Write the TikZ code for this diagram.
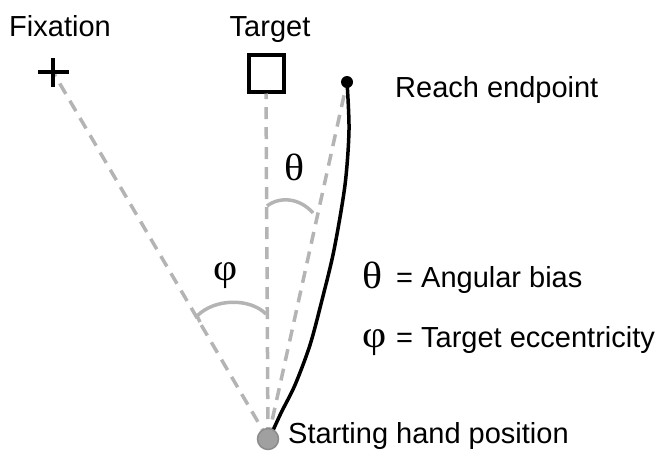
\documentclass[tikz,border=0pt]{standalone}
\usepackage{fontspec}
\setmainfont{Liberation Sans}
\newfontfamily\greekfont{Liberation Serif}
\usetikzlibrary{positioning}

\definecolor{guidegray}{RGB}{180,180,180}
\definecolor{handgray}{RGB}{160,160,160}

\tikzset{
  guide/.style={draw=guidegray, line width=3.5pt, dash pattern=on 12pt off 8pt},
  anglearc/.style={draw=guidegray, line width=3.5pt},
  reach/.style={draw=black, line width=3.5pt},
  handpos/.style={circle, fill=handgray, draw=gray!90, line width=1.5pt, minimum size=21pt, inner sep=0pt},
  targetbox/.style={rectangle, draw=black, line width=4pt, minimum width=35pt, minimum height=37pt, inner sep=0pt},
  enddot/.style={circle, fill=black, minimum size=12pt, inner sep=0pt},
  label/.style={inner sep=0pt, font=\fontsize{29}{34}\selectfont},
  greek/.style={inner sep=0pt, font=\greekfont\fontsize{38}{42}\selectfont, xscale=1.1}
}

\begin{document}
\begin{tikzpicture}[x=1pt, y=-1pt]
  \useasboundingbox (0,0) rectangle (659,456);

  % Points
  \coordinate (fix) at (53,72);
  \node[targetbox] (target) at (266,73) {};
  \node[enddot] (endpt) at (347,82) {};
  \coordinate (origin) at (268,439);

  % Guide lines
  \draw[guide] (origin) -- (fix);
  \draw[guide] (origin) -- (target.south);
  \draw[guide] (origin) -- (endpt);

  % Fixation cross
  \draw[line width=3.5pt] (fix) ++(-15,0) -- ++(31,0);
  \draw[line width=3.5pt] (fix) ++(0,-14) -- ++(0,29);

  % Angles
  \draw[anglearc] (267,206) .. controls (280,196) and (300,198) .. (313,213);
  \draw[anglearc] (266,314) .. controls (250,298) and (215,298) .. (197,316) -- (200,322);
  \node[greek] (theta) at (295,167) {θ};
  \node[greek] (phi) at (226,276) {φ};

  % Reach path
  \draw[reach] plot[smooth] coordinates {(347,82) (349,130) (345,185) (334,250) (322,300) (310,345) (295,385) (281,413) (270,437)};

  % Start
  \node[handpos] (start) at (origin) {};

  % Labels
  \node[label, anchor=base] (fixlabel) at (60,36) {Fixation};
  \node[label, anchor=base] (targetlabel) at (270,36) {Target};
  \node[label, anchor=base west] (endlabel) at (395,97) {Reach endpoint};
  \node[label, anchor=base west] (startlabel) at (288,443) {Starting hand position};

  % Key
  \node[greek, anchor=base west] (thetakey) at (362,288) {θ};
  \node[label, anchor=base west] (thetatext) at (396,287) {= Angular bias};
  \node[greek, anchor=base west] (phikey) at (362,347) {φ};
  \node[label, anchor=base west] (phitext) at (396,347) {= Target eccentricity};
\end{tikzpicture}
\end{document}
